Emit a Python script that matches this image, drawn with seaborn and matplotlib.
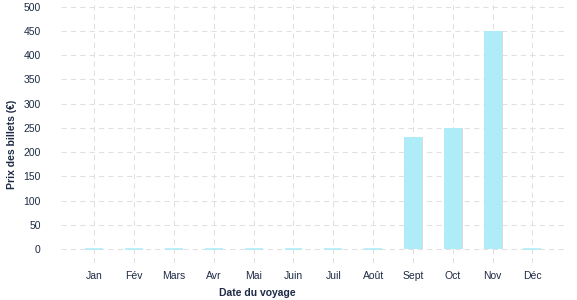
import matplotlib
matplotlib.use("Agg")
import matplotlib.pyplot as plt
import matplotlib.patheffects as pe
import seaborn as sns
import pandas as pd

months = ["Jan", "Fév", "Mars", "Avr", "Mai", "Juin", "Juil", "Août", "Sept", "Oct", "Nov", "Déc"]
prices = [0, 0, 0, 0, 0, 0, 0, 0, 231, 250, 450, 0]
yticks = [0, 50, 100, 150, 200, 250, 300, 350, 400, 450, 500]

df = pd.DataFrame({"Mois": months, "Prix": prices})

sns.set_theme(style="white")
plt.rcParams["font.family"] = ["Liberation Sans", "DejaVu Sans"]

TXT = "#1e2a45"
BAR = "#aeedf8"
BW = 0.45

fig = plt.figure(figsize=(5.77, 3.0), dpi=100)
ax = fig.add_axes([61 / 577, 37 / 300, 506 / 577, 263 / 300])

sns.barplot(data=df, x="Mois", y="Prix", color=BAR, width=BW, saturation=1,
            linewidth=0, ax=ax, zorder=3)
for p in ax.patches:
    p.set_path_effects([pe.SimplePatchShadow(offset=(1.0, -0.3), shadow_rgbFace="#dadada", alpha=1.0),
                        pe.Normal()])

# zero-valued months appear as thin flat bars
for i, v in enumerate(prices):
    if v == 0:
        ax.hlines(v, i - BW / 2, i + BW / 2, color=BAR, linewidth=1.2, zorder=3)

ax.set_xlim(-0.84, 11.87)
ax.set_ylim(-29, 514)
ax.set_yticks(yticks)
ax.set_yticklabels([str(v) for v in yticks])

ax.grid(True, axis="both", color="#e0e0e0", linestyle=(0, (5, 4)), linewidth=0.75, zorder=0)
ax.set_axisbelow(True)
for s in ax.spines.values():
    s.set_visible(False)

ax.tick_params(axis="both", length=0, labelsize=7.5, colors=TXT)
ax.tick_params(axis="x", pad=6)
ax.tick_params(axis="y", pad=14.5)

ax.set_xlabel("Date du voyage", fontsize=7.5, fontweight="bold", color=TXT)
ax.set_ylabel("Prix des billets (€)", fontsize=7.5, fontweight="bold", color=TXT)
ax.xaxis.set_label_coords((257 - 61) / 506, -(288 - 263) / 263)
ax.yaxis.set_label_coords(-(61 - 17) / 506, (263 - 144) / 263)

fig.savefig("out.png", dpi=100)
